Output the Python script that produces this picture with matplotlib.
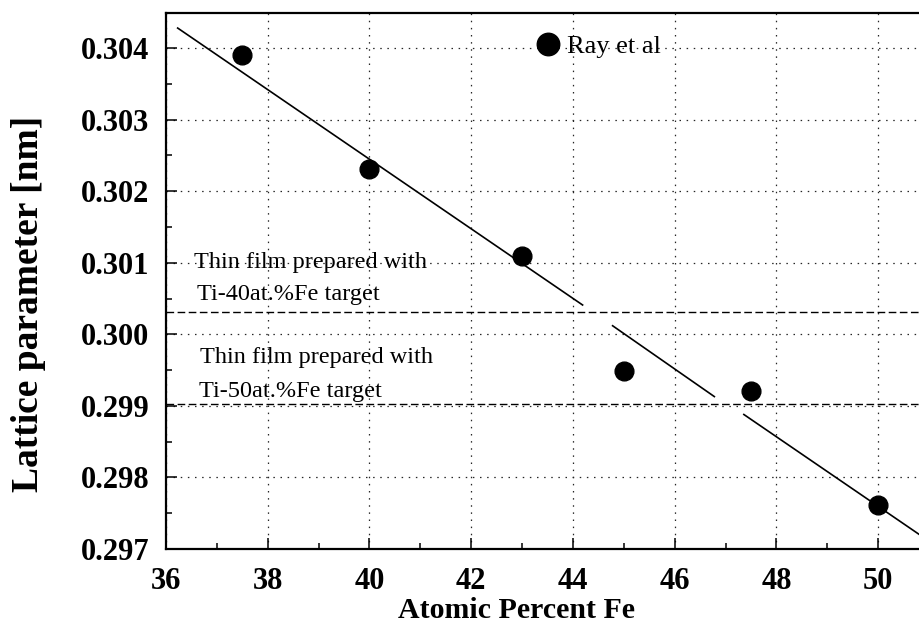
import matplotlib
matplotlib.use("Agg")
import matplotlib.pyplot as plt
from matplotlib.ticker import MultipleLocator, FormatStrFormatter

# Data
fe_at = [37.5, 40.0, 43.0, 45.0, 47.5, 50.0]
lattice_nm = [0.30390, 0.30231, 0.30109, 0.29949, 0.29921, 0.29762]

# Linear fit drawn as broken segments (endpoints)
fit_x0 = [36.23, 44.78, 47.36]
fit_x1 = [44.19, 46.78, 51.00]
fit_y0 = [0.30428, 0.30012, 0.29888]
fit_y1 = [0.30041, 0.29913, 0.29711]

# Horizontal reference lines (thin films)
film_levels = [0.30031, 0.29903]
film_labels = [["Thin film prepared with", "Ti-40at.%Fe target"],
               ["Thin film prepared with", "Ti-50at.%Fe target"]]
film_text_x = [[36.55, 36.61], [36.67, 36.65]]
film_text_y = [[0.30101, 0.30055], [0.29967, 0.29920]]

x_ticks = [36, 38, 40, 42, 44, 46, 48, 50]
y_ticks = [0.297, 0.298, 0.299, 0.300, 0.301, 0.302, 0.303, 0.304]

serif = ["Liberation Serif", "DejaVu Serif"]
plt.rcParams["font.family"] = serif

fig = plt.figure(figsize=(9.19, 6.32), dpi=100)
ax = fig.add_axes([0.1806, 0.1313, 0.8303, 0.8481])
ax.set_xlim(36, 51)
ax.set_ylim(0.297, 0.30449)

# grid
ax.set_xticks(x_ticks)
ax.set_yticks(y_ticks)
ax.xaxis.set_minor_locator(MultipleLocator(1))
ax.yaxis.set_minor_locator(MultipleLocator(0.0005))
ax.grid(True, which="major", color="0.15", linestyle=(0, (1.2, 4.5)), linewidth=0.9)

# fit line segments
for a, b, c, d in zip(fit_x0, fit_x1, fit_y0, fit_y1):
    ax.plot([a, b], [c, d], color="black", linewidth=1.2, zorder=3)

# dashed thin-film lines
for lv in film_levels:
    ax.axhline(lv, color="black", linewidth=1.0, linestyle=(0, (5.5, 2.5)), zorder=3)

# data points
ax.plot(fe_at, lattice_nm, linestyle="none", marker="o", markersize=13.5,
        color="black", label="Ray et al", zorder=4)

leg = ax.legend(loc="center left", bbox_to_anchor=(0.4864, 0.9384), frameon=False,
                borderpad=0, borderaxespad=0, handlelength=0.8, handletextpad=0.33,
                markerscale=1.2, prop={"family": serif, "size": 19})

for labels, xs, ys in zip(film_labels, film_text_x, film_text_y):
    for t, x, y in zip(labels, xs, ys):
        ax.text(x, y, t, fontsize=17.5, va="center", ha="left", family=serif, zorder=5)

ax.yaxis.set_major_formatter(FormatStrFormatter("%.3f"))
for lab in ax.get_xticklabels() + ax.get_yticklabels():
    lab.set_fontweight("bold")
    lab.set_fontsize(22)
ax.tick_params(which="major", direction="in", length=8, width=1.1, top=False, right=False)
ax.tick_params(which="minor", direction="in", length=4, width=1.1, top=False, right=False)
ax.tick_params(axis="y", which="major", pad=12)
ax.tick_params(axis="x", which="major", pad=13)

for s in ax.spines.values():
    s.set_linewidth(1.6)

ax.set_xlabel("Atomic Percent Fe", fontsize=21.5, fontweight="bold")
ax.xaxis.set_label_coords(0.46, -0.09)
ax.set_ylabel("Lattice parameter [nm]", fontsize=27, fontweight="bold")
ax.yaxis.set_label_coords(-0.157, 0.458)

fig.savefig("out.png", dpi=100)
